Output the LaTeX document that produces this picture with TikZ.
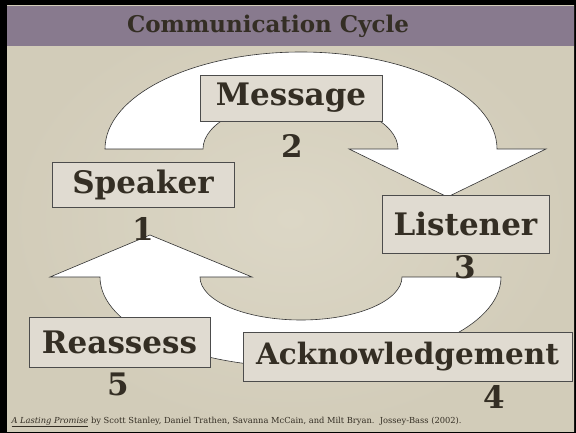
\documentclass[tikz,border=0pt]{standalone}
\usepackage{fontspec}
\setmainfont{DejaVu Serif}
\usetikzlibrary{positioning}
\definecolor{slidebg}{HTML}{D2CCB9}
\definecolor{slidebglight}{HTML}{DCD7C6}
\definecolor{titlebar}{HTML}{887A8E}
\definecolor{inkbrown}{HTML}{342E24}
\definecolor{boxfill}{HTML}{E0DBD1}
\tikzset{
  stagebox/.style={rectangle, draw=black!70, fill=boxfill, text=inkbrown, inner sep=0pt,
                   font=\fontsize{31}{33}\selectfont\bfseries},
  stepnum/.style={text=inkbrown, font=\fontsize{31}{33}\selectfont\bfseries},
  cyclearrow/.style={fill=white, draw=black!80, line width=0.6pt},
}

\begin{document}
\begin{tikzpicture}[x=1pt, y=-1pt,
    titletext/.style={text=inkbrown, font=\fontsize{23}{26}\selectfont\bfseries},
    source/.style={text=inkbrown, anchor=west, font=\fontsize{8.3}{10}\selectfont}
]
\useasboundingbox (0,0) rectangle (576,433);

% Slide background
\fill[black] (0,0) rectangle (576,433);
\shade[inner color=slidebglight, outer color=slidebg] (7,6) rectangle (574,431);
\fill[titlebar] (7,6) rectangle (574,46);
\node[titletext] (title) at (268,26) {Communication Cycle};

% Arrow from speaker over to listener
\draw[cyclearrow] (105,149) arc[start angle=180, end angle=360, x radius=196, y radius=97]
  -- (546,149) -- (447.5,197) -- (349,149) -- (398,149)
  arc[start angle=0, end angle=-180, x radius=97.5, y radius=48] -- cycle;

% Arrow from listener back round to speaker
\draw[cyclearrow] (501,277) arc[start angle=0, end angle=180, x radius=200.5, y radius=90]
  -- (50,277) -- (150,235) -- (252,277) -- (200,277)
  arc[start angle=180, end angle=0, x radius=101, y radius=43] -- cycle;

% Stages
\node[stagebox, minimum width=182, minimum height=46] (message) at (291,98) {Message};
\node[stagebox, minimum width=182, minimum height=45] (speaker) at (143,184.5) {Speaker};
\node[stagebox, minimum width=167, minimum height=58] (listener) at (465.5,224) {Listener};
\node[stagebox, minimum width=181, minimum height=50] (reassess) at (119.5,342) {Reassess};
\node[stagebox, minimum width=329, minimum height=49, font=\fontsize{29.5}{32}\selectfont\bfseries] (acknowledge) at (407.5,356.5) {Acknowledgement};

% Numbers
\node[stepnum] (n1) at (143,229) {1};
\node[stepnum] (n2) at (292,146) {2};
\node[stepnum] (n3) at (465,267) {3};
\node[stepnum] (n4) at (494,397) {4};
\node[stepnum] (n5) at (118,384) {5};

% Source
\node[source] (cite) at (8,422) {\underline{\textit{A Lasting Promise}} by Scott Stanley, Daniel Trathen, Savanna McCain, and Milt Bryan.\ \ Jossey-Bass (2002).};
\end{tikzpicture}
\end{document}
